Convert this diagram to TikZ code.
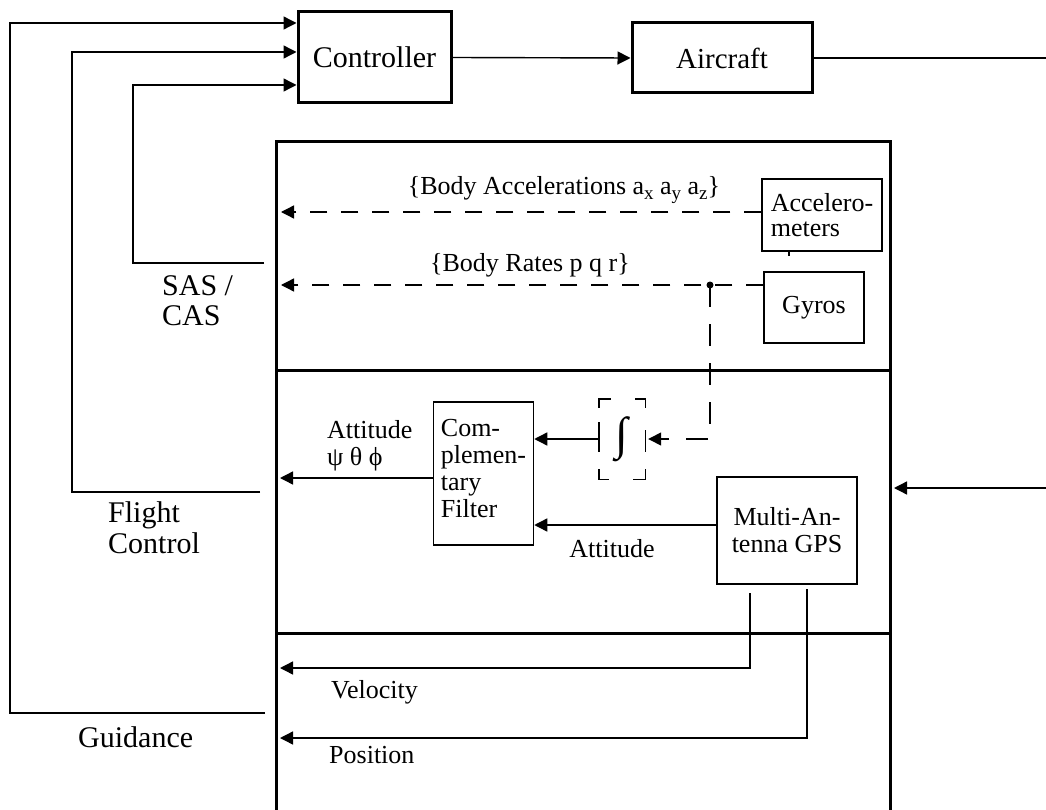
\documentclass[tikz,border=0pt]{standalone}
\usepackage{fontspec}
\setmainfont{Liberation Serif}
\usetikzlibrary{arrows.meta}
\newcommand\mysub[1]{\raisebox{-4.5pt}{\fontsize{19}{19}\selectfont #1}}
\tikzset{
  tip/.style={-{Triangle[length=13pt,width=13pt]}},
  conn/.style={line width=1.4pt, tip},
  plain/.style={line width=1.4pt},
  dsh/.style={line width=1.4pt, dash pattern=on 17pt off 14pt},
  thickbox/.style={draw, line width=3pt, inner sep=0pt},
  thinbox/.style={draw, line width=1.5pt, inner sep=0pt},
  big/.style={font=\fontsize{30}{30}\selectfont},
  mid/.style={font=\fontsize{26}{27}\selectfont},
  frame/.style={line width=3pt},
}
\begin{document}
\begin{tikzpicture}[x=1pt,y=-1pt]
\useasboundingbox (0,0) rectangle (1046,810);

% main frame
\draw[frame] (276,812) -- (276,142) -- (890,142) -- (890,812);
\draw[frame] (276,370) -- (890,370);
\draw[frame] (276,633) -- (890,633);

% blocks
\node[thickbox, minimum width=153pt, minimum height=91pt, big] (ctrl) at (374.5,57.5) {Controller};
\node[thickbox, minimum width=180pt, minimum height=70pt, font=\fontsize{29}{29}\selectfont] (air) at (722,58) {Aircraft};
\node[thinbox, minimum width=120pt, minimum height=72pt, font=\fontsize{26}{25}\selectfont, align=left] (acc) at (822,215) {Accelero-\\meters};
\node[thinbox, minimum width=100pt, minimum height=71pt, mid] (gyro) at (814,307.5) {Gyros};
\node[thinbox, minimum width=100pt, minimum height=143pt] (filt) at (483.5,473.5) {};
\node[mid, align=left, inner sep=0pt] (filtTxt) at ([yshift=5pt]filt.center) {Com-\\plemen-\\tary\\Filter};
\node[minimum width=46pt, minimum height=80pt, inner sep=0pt, font=\fontsize{46}{46}\selectfont] (integ) at (622,439) {∫};
\node[thinbox, minimum width=140pt, minimum height=107pt, mid, align=center] (gps) at (787,530.5) {Multi-An-\\tenna GPS};

% integrator dashed outline
\draw[plain] ([yshift=-9pt]integ.north west) -- (integ.north west) -- ([xshift=12pt]integ.north west);
\draw[plain] ([xshift=-10pt]integ.north east) -- (integ.north east) -- ([yshift=-9pt]integ.north east);
\draw[plain] ([yshift=10pt]integ.south west) -- (integ.south west) -- ([xshift=10pt]integ.south west);
\draw[plain] ([xshift=-12pt]integ.south east) -- (integ.south east) -- ([yshift=10pt]integ.south east);
\draw[plain] ([yshift=17pt]integ.west) -- ([yshift=-13pt]integ.west);
\draw[plain] ([yshift=9pt]integ.east) -- ([yshift=-13pt]integ.east);

% labels (multi-line: base anchor is the last line)
\node[big, anchor=base west, align=left, inner sep=0pt] (lsas) at (162,325) {SAS /\\CAS};
\node[big, anchor=base west, align=left, inner sep=0pt, font=\fontsize{30}{31}\selectfont] (lfc) at (108,553) {Flight\\Control};
\node[big, anchor=base west, inner sep=0pt] (lgd) at (78,747) {Guidance};
\node[mid, anchor=base west, align=left, inner sep=0pt] (latt) at (327,465) {Attitude\\ψ θ ϕ};
\node[mid, anchor=base, inner sep=0pt] (latt2) at (612,557) {Attitude};
\node[mid, anchor=base west, inner sep=0pt] (lvel) at (331,698) {Velocity};
\node[mid, anchor=base west, inner sep=0pt] (lpos) at (329,763) {Position};
\node[mid, anchor=base, inner sep=0pt] (lacc) at (564,195) {\{Body Accelerations a\mysub{x} a\mysub{y} a\mysub{z}\}};
\node[mid, anchor=base, inner sep=0pt] (lrate) at (530,271) {\{Body Rates p q r\}};

% coordinates for free ends
\coordinate (outR) at (1046,58);
\coordinate (inR) at (1046,488);
\coordinate (inRt) at (894,488);
\coordinate (sasS) at (264,263);
\coordinate (fcS) at (260,492);
\coordinate (gdS) at (265,713);
\coordinate (accT) at (281,212);
\coordinate (rateT) at (281,285);
\coordinate (tap) at (710,285);
\coordinate (attT) at (280,478);
\coordinate (vS) at (750,593);
\coordinate (vT) at (280,668);
\coordinate (pS) at (807,589);
\coordinate (pT) at (280,738);

% connectors
\draw[conn] (ctrl.east) -- (air.west);
\draw[plain] (air.east) -- (outR);
\draw[conn] (inR) -- (inRt);
\draw[conn] (sasS) -| (133,85) -- (ctrl.west |- 0,85);
\draw[conn] (fcS) -| (72,52) -- (ctrl.west |- 0,52);
\draw[conn] (gdS) -| (10,23) -- (ctrl.west |- 0,23);

\draw[dsh, tip] ([yshift=3pt]acc.west) -- (accT);
\draw[dsh, tip] (gyro.west |- tap) -- (rateT);
\fill (tap) circle (3.5pt);
\draw[dsh, tip, dash pattern=on 22pt off 17pt] (tap) |- ([xshift=3pt]integ.east);
\draw[plain] (789,251) -- (789,256);

\draw[conn] (integ.west) -- (filt.east |- integ.west);
\draw[conn] (gps.west |- 0,525) -- (filt.east |- 0,525);
\draw[conn] (filt.west |- attT) -- (attT);
\draw[conn] (vS) |- (vT);
\draw[conn] (pS) |- (pT);
\end{tikzpicture}
\end{document}
